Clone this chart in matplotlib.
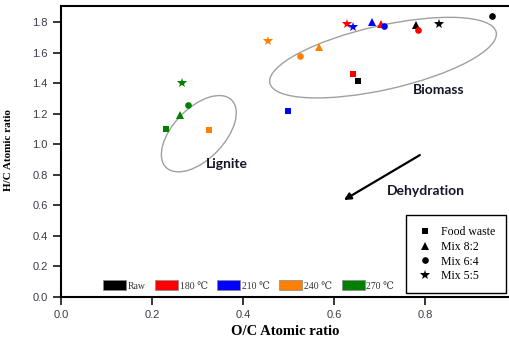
import matplotlib
matplotlib.use("Agg")
import matplotlib.pyplot as plt
from matplotlib.patches import Ellipse, Patch
from matplotlib.lines import Line2D
from matplotlib.transforms import ScaledTranslation

# ---- data ----
temps = ['Raw', '180 \u2103', '210 \u2103', '240 \u2103', '270 \u2103']
temp_colors = ['#000000', '#FF0000', '#0000FF', '#FF8000', '#008000']
feedstocks = ['Food waste', 'Mix 8:2', 'Mix 6:4', 'Mix 5:5']
feed_markers = ['s', '^', 'o', '*']
feed_sizes = [4.5, 5.5, 4.8, 7.0]

# O/C and H/C per feedstock, ordered by temperature (Raw, 180, 210, 240, 270)
oc_food = [0.653, 0.641, 0.500, 0.325, 0.230]
hc_food = [1.416, 1.462, 1.215, 1.090, 1.097]
oc_82 = [0.780, 0.703, 0.684, 0.568, 0.262]
hc_82 = [1.780, 1.790, 1.800, 1.634, 1.190]
oc_64 = [0.947, 0.786, 0.711, 0.525, 0.279]
hc_64 = [1.840, 1.750, 1.774, 1.579, 1.254]
oc_55 = [0.831, 0.628, 0.642, 0.455, 0.265]
hc_55 = [1.785, 1.787, 1.765, 1.675, 1.400]

oc_all = [oc_food, oc_82, oc_64, oc_55]
hc_all = [hc_food, hc_82, hc_64, hc_55]

xticks = [0.0, 0.2, 0.4, 0.6, 0.8]
yticks = [0.0, 0.2, 0.4, 0.6, 0.8, 1.0, 1.2, 1.4, 1.6, 1.8]

# ---- figure ----
fig = plt.figure(figsize=(5.09, 3.44), dpi=100)
ax = fig.add_axes([61/509, 47/344, 448/509, 291/344])

for fi in range(len(feedstocks)):
    for ti in range(len(temps)):
        ax.plot(oc_all[fi][ti], hc_all[fi][ti], linestyle='none',
                marker=feed_markers[fi], markersize=feed_sizes[fi],
                color=temp_colors[ti], markeredgewidth=0, zorder=3)

ax.set_xlim(0, 0.985)
ax.set_ylim(0, 1.905)
ax.set_xticks(xticks)
ax.set_yticks(yticks)
ax.set_xticklabels(['%.1f' % v for v in xticks])
ax.set_yticklabels(['%.1f' % v for v in yticks])
tick_col = '#3a3a4a'
ax.tick_params(axis='both', direction='out', length=5.5, width=1.1,
               labelsize=8, labelcolor=tick_col, pad=4, top=False, right=False)
for lab in ax.get_xticklabels() + ax.get_yticklabels():
    lab.set_family('Liberation Sans')
for s in ['left', 'bottom', 'top']:
    ax.spines[s].set_linewidth(1.5)
ax.spines['right'].set_visible(False)

ax.set_xlabel('O/C Atomic ratio', family='Liberation Serif', weight='bold',
              fontsize=10.5)
ax.set_ylabel('H/C Atomic ratio', family='Liberation Serif', weight='bold',
              fontsize=8)
ax.yaxis.set_label_coords((13.5 - 61) / 448, (297 - 150) / 291)
ax.xaxis.set_label_coords(0.5, (297 - 325) / 291)

# ellipses (sizes in inches, centred in data coords)
def add_ell(cx, cy, w, h, ang):
    tr = fig.dpi_scale_trans + ScaledTranslation(cx, cy, ax.transData)
    e = Ellipse((0, 0), w, h, angle=ang, transform=tr, fill=False,
                edgecolor='#a0a0a0', linewidth=1.0, zorder=2)
    ax.add_patch(e)

add_ell(0.708, 1.567, 2.32, 0.64, 12.7)
add_ell(0.303, 1.069, 0.94, 0.51, 46)

txt_kw = dict(family='Lato', weight='bold', fontsize=10, color='#141428',
              va='center', ha='left')
ax.text(0.774, 1.355, 'Biomass', **txt_kw)
ax.text(0.319, 0.870, 'Lignite', **txt_kw)
ax.text(0.716, 0.697, 'Dehydration', **txt_kw)

ax.annotate('', xy=(0.622, 0.635), xytext=(0.789, 0.929),
            arrowprops=dict(arrowstyle='-|>', color='black', lw=1.6,
                            mutation_scale=10, shrinkA=0, shrinkB=0))

# temperature legend
th = [Patch(facecolor=c, edgecolor='#888888', linewidth=0.5) for c in temp_colors]
leg1 = ax.legend(th, temps, loc='center left',
                 bbox_to_anchor=((103 - 61) / 448, (297 - 285.5) / 291),
                 ncol=5, frameon=False, borderpad=0, borderaxespad=0,
                 handlelength=2.37, handleheight=1.13, handletextpad=0.15,
                 columnspacing=1.0,
                 prop=dict(family=['Liberation Serif', 'DejaVu Serif'], size=7))
for t in leg1.get_texts():
    t.set_color('#333333')
ax.add_artist(leg1)

# feedstock legend
fh = [Line2D([], [], linestyle='none', marker=m, markersize=s, color='black',
             markeredgewidth=0) for m, s in zip(feed_markers, feed_sizes)]
leg2 = ax.legend(fh, feedstocks, loc='lower left',
                 bbox_to_anchor=((406 - 61) / 448, (297 - 293) / 291),
                 borderaxespad=0, borderpad=0.9, handlelength=1.5,
                 handletextpad=0.6, labelspacing=0.24, fancybox=False,
                 edgecolor='black', framealpha=1,
                 prop=dict(family='Liberation Serif', size=8.5))
leg2.get_frame().set_linewidth(1.0)

fig.savefig('out.png', dpi=100)
